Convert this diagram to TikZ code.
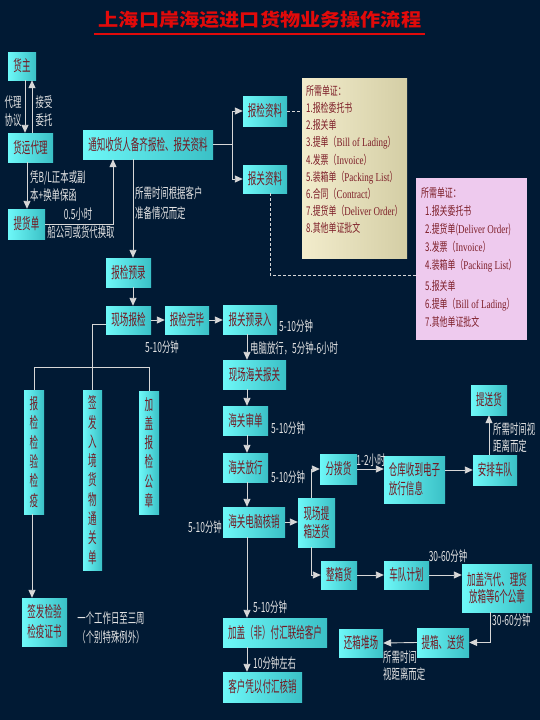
\documentclass[tikz,border=0pt]{standalone}
\usepackage{fontspec}
\setmainfont{Noto Sans CJK SC}
\newfontfamily\cjk[FakeStretch=0.55]{Noto Sans CJK SC}
\newfontfamily\labf[FakeStretch=0.6]{Noto Sans CJK SC}
\newfontfamily\notef[FakeStretch=0.66]{Noto Sans CJK SC}
\newfontfamily\lat[FakeStretch=0.75]{Liberation Serif}
\newfontfamily\ttlf[FakeStretch=1.12]{Noto Sans CJK SC}
\usetikzlibrary{arrows.meta}
\definecolor{bgC}{RGB}{1,26,52}
\definecolor{boxL}{RGB}{110,248,248}
\definecolor{boxR}{RGB}{58,192,198}
\definecolor{boxT}{RGB}{115,25,35}
\definecolor{lineC}{RGB}{215,215,215}
\definecolor{labC}{RGB}{228,228,228}
\definecolor{titleC}{RGB}{225,10,10}
\definecolor{beigeL}{RGB}{242,236,204}
\definecolor{beigeR}{RGB}{212,206,165}
\definecolor{pinkC}{RGB}{238,202,238}
\definecolor{noteT}{RGB}{125,30,40}
\tikzset{
  box/.style={inner sep=0pt, left color=boxL, right color=boxR, text=boxT,
    font=\cjk\fontsize{15.5}{18}\selectfont, align=center},
  vbox/.style={box, font=\cjk\fontsize{15.5}{19.3}\selectfont},
  lab/.style={text=labC, font=\labf\fontsize{14}{18}\selectfont, inner sep=0pt},
  ln/.style={draw=lineC, line width=0.9pt},
  arr/.style={ln, -{Triangle[width=7pt,length=8pt]}},
  dsh/.style={draw=lineC, line width=0.9pt, dash pattern=on 3pt off 2pt},
  notebox/.style={inner sep=0pt, anchor=north west},
  notetext/.style={inner sep=0pt, anchor=north west, align=left, text=noteT,
    font=\notef\fontsize{12}{17.2}\selectfont}
}
\begin{document}
\begin{tikzpicture}[x=1pt,y=-1pt]
\fill[bgC] (0,0) rectangle (540,720);
\useasboundingbox (0,0) rectangle (540,720);

% title
\node[text=titleC, font=\ttlf\bfseries\fontsize{18}{20}\selectfont, inner sep=0pt] (title) at (260,20) {上海口岸海运进口货物业务操作流程};
\draw[titleC, line width=2pt] (94,34) -- (425,34);

% boxes
\node[box, minimum width=28pt, minimum height=28pt] (huozhu) at (22,66) {货主};
\node[box, minimum width=45pt, minimum height=29pt] (huoyun) at (30.5,147.5) {货运代理};
\node[box, minimum width=37pt, minimum height=30pt] (tihuo) at (26.5,224) {提货单};
\node[box, minimum width=130pt, minimum height=29pt] (tongzhi) at (148,144.5) {通知收货人备齐报检、报关资料};
\node[box, minimum width=44pt, minimum height=30pt] (bjzl) at (265,111) {报检资料};
\node[box, minimum width=44pt, minimum height=28pt] (bgzl) at (265,179) {报关资料};
\node[box, minimum width=45pt, minimum height=29pt] (bjyl) at (128.5,272.5) {报检预录};
\node[box, minimum width=45pt, minimum height=28pt] (xcbj) at (128.5,320) {现场报检};
\node[box, minimum width=44pt, minimum height=28pt] (bjwb) at (187,320) {报检完毕};
\node[box, minimum width=54pt, minimum height=29pt] (bgyl) at (250,319.5) {报关预录入};
\node[box, minimum width=63pt, minimum height=29pt] (xcbg) at (254.5,374.5) {现场海关报关};
\node[box, minimum width=45pt, minimum height=29pt] (shendan) at (245.5,420.5) {海关审单};
\node[box, minimum width=45pt, minimum height=29pt] (fangxing) at (245.5,467.5) {海关放行};
\node[box, minimum width=62pt, minimum height=30pt] (hexiao) at (254,522) {海关电脑核销};
\node[box, minimum width=37pt, minimum height=49pt] (tixiang) at (316.5,522.5) {现场提\\箱送货};
\node[box, minimum width=37pt, minimum height=30pt] (fenbo) at (338.5,469) {分拨货};
\node[box, minimum width=61pt, minimum height=47pt, align=left, font=\cjk\fontsize{15.5}{19}\selectfont] (cangku) at (414.5,479.5) {仓库收到电子\\放行信息};
\node[box, minimum width=44pt, minimum height=30pt] (anpai) at (495,470) {安排车队};
\node[box, minimum width=36pt, minimum height=30pt] (tisong) at (489,400) {提送货};
\node[box, minimum width=36pt, minimum height=28pt] (zhengx) at (339,575) {整箱货};
\node[box, minimum width=45pt, minimum height=28pt] (chedui) at (406.5,575) {车队计划};
\node[box, minimum width=70pt, minimum height=48pt, font=\cjk\fontsize{15.5}{16.5}\selectfont] (jiagai) at (497,588) {加盖汽代、理货\\放箱等6个公章};
\node[box, minimum width=52pt, minimum height=29pt] (txsh) at (443,642.5) {提箱、送货};
\node[box, minimum width=44pt, minimum height=28pt] (huanx) at (361,643) {还箱堆场};
\node[box, minimum width=104pt, minimum height=29pt] (fuhui) at (275,632.5) {加盖（非）付汇联给客户};
\node[box, minimum width=79pt, minimum height=30pt] (kehu) at (262.5,687) {客户凭以付汇核销};
\node[vbox, minimum width=20pt, minimum height=124pt] (v1) at (34,452) {报\\检\\检\\验\\检\\疫};
\node[vbox, minimum width=19pt, minimum height=180pt] (v2) at (92.5,480) {签\\发\\入\\境\\货\\物\\通\\关\\单};
\node[vbox, minimum width=20pt, minimum height=123pt] (v3) at (149,452.5) {加\\盖\\报\\检\\公\\章};
\node[box, minimum width=45pt, minimum height=48pt, font=\cjk\fontsize{15.5}{20}\selectfont] (zhengshu) at (44.5,622) {签发检验\\检疫证书};

% notes
\node[notebox, left color=beigeL, right color=beigeR, minimum width=105pt, minimum height=180pt] (bnote) at (302,78) {};
\node[notetext] at (306,85) {所需单证：\\1.报检委托书\\2.报关单\\3.提单（{\lat Bill of Lading}）\\4.发票（{\lat Invoice}）\\5.装箱单（{\lat Packing List}）\\6.合同（{\lat Contract}）\\7.提货单（{\lat Deliver Order}）\\8.其他单证批文};
\node[notebox, fill=pinkC, minimum width=111pt, minimum height=162pt] (pnote) at (416,178) {};
\node[notetext, font=\notef\fontsize{12}{18}\selectfont] at (421,187) {所需单证：\\\hspace*{4pt}1.报关委托书\\\hspace*{4pt}2.提货单({\lat Deliver Order})\\\hspace*{4pt}3.发票（{\lat Invoice}）\\\hspace*{4pt}4.装箱单（{\lat Packing List}）\\[3pt]\hspace*{4pt}5.报关单\\\hspace*{4pt}6.提单（{\lat Bill of Lading}）\\\hspace*{4pt}7.其他单证批文};

% connectors, left top
\draw[arr] (huozhu.south -| 25,0) -- (huoyun.north -| 25,0);
\draw[arr] (huoyun.north -| 32,0) -- (huozhu.south -| 32,0);
\node[lab, align=center] at (13,111) {代理\\协议};
\node[lab, align=center] at (44,111) {接受\\委托};
\draw[arr] (huoyun.south -| 27,0) -- (tihuo.north -| 27,0);
\node[lab, anchor=west, align=left] at (30,186) {凭B/L正本或副\\本+换单保函};
\draw[arr] (tihuo.east) -| (tongzhi.south -| 113,0);
\node[lab] at (78,214) {0.5小时};
\node[lab] at (81,232) {船公司或货代换取};
\draw[arr] (tongzhi.south -| 133,0) -- (bjyl.north -| 133,0);
\node[lab, anchor=west, align=left, font=\labf\fontsize{14}{20}\selectfont] at (135,203) {所需时间根据客户\\准备情况而定};
\coordinate (br) at (232,144.5);
\draw[ln] (tongzhi.east) -- (br);
\draw[arr] (br) |- (bjzl.west);
\draw[arr] (br) |- (bgzl.west);
\draw[dsh] (bjzl.east) -- (bnote.west |- bjzl.east);
\draw[dsh] (bgzl.south -| 270,0) |- (pnote.west |- 0,275);

% main flow
\draw[arr] (bjyl.south -| 133,0) -- (xcbj.north -| 133,0);
\draw[arr] (xcbj.east) -- (bjwb.west);
\draw[arr] (bjwb.east) -- (bgyl.west |- bjwb.east);
\node[lab] at (162,347) {5-10分钟};
\node[lab, anchor=west] at (279,326) {5-10分钟};
\draw[arr] (bgyl.south -| 247,0) -- (xcbg.north -| 247,0);
\node[lab, anchor=west] at (250,348) {电脑放行，5分钟-6小时};
\draw[arr] (xcbg.south -| 247,0) -- (shendan.north -| 247,0);
\draw[arr] (shendan.south -| 247,0) -- (fangxing.north -| 247,0);
\draw[arr] (fangxing.south -| 247,0) -- (hexiao.north -| 247,0);
\draw[arr] (hexiao.south -| 247,0) -- (fuhui.north -| 247,0);
\draw[arr] (fuhui.south -| 247,0) -- (kehu.north -| 247,0);
\node[lab, anchor=west] at (271,428) {5-10分钟};
\node[lab, anchor=west] at (271,477) {5-10分钟};
\node[lab, anchor=east] at (222,527) {5-10分钟};
\node[lab, anchor=west] at (253,607) {5-10分钟};
\node[lab, anchor=west] at (253,663) {10分钟左右};

% right branch
\draw[arr] (hexiao.east) -- (tixiang.west |- hexiao.east);
\draw[arr] (tixiang.north -| 311,0) |- (fenbo.west);
\draw[arr] (tixiang.south -| 311,0) |- (zhengx.west);
\draw[arr] (fenbo.east) -- (cangku.west |- fenbo.east);
\node[lab] at (371,460) {1-2小时};
\draw[arr] (cangku.east |- anpai.west) -- (anpai.west);
\draw[arr] (anpai.north -| 489,0) -- (tisong.south -| 489,0);
\node[lab, anchor=west, align=left, font=\labf\fontsize{14}{17}\selectfont] at (493,438) {所需时间视\\距离而定};
\draw[arr] (zhengx.east) -- (chedui.west);
\draw[arr] (chedui.east) -- (jiagai.west |- chedui.east);
\node[lab] at (448,556) {30-60分钟};
\draw[arr] (jiagai.south -| 490,0) |- (txsh.east);
\node[lab, anchor=west] at (492,620) {30-60分钟};
\draw[arr] (txsh.west) -- (huanx.east);
\node[lab, anchor=west, align=left, font=\labf\fontsize{14}{17}\selectfont] at (383,666) {所需时间\\视距离而定};

% left tree
\draw[ln] ([yshift=-4pt]xcbj.west) -| (v2.north);
\coordinate (hr) at (149,367);
\draw[ln] (v1.north) |- (hr) -- (v3.north);
\draw[arr] (v1.south -| 32,0) -- (zhengshu.north -| 32,0);
\node[lab, align=center, font=\labf\fontsize{14}{19}\selectfont] at (111,628) {一个工作日至三周\\（个别特殊例外）};
\end{tikzpicture}
\end{document}
